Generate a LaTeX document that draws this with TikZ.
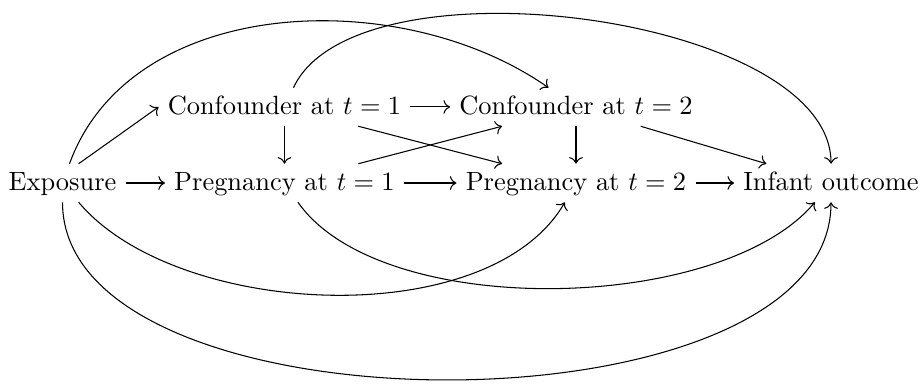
\documentclass[tikz,border=0pt]{standalone}
\usepackage{mathtools}
\usepackage{tikz}
\usetikzlibrary{arrows.meta}

\begin{document}
\begin{tikzpicture}[->, >={Computer Modern Rightarrow},
   var/.style={inner sep=3.33pt, text height=1.5ex, text depth=.25ex}]
  \useasboundingbox (-0.832,-2.663) rectangle (11.469,2.436);
  \node[var] (exp)   at (0,0)         {Exposure};
  \node[var] (conf1) at (2.955,1.012) {Confounder at $t=1$};
  \node[var] (preg1) at (2.955,0)     {Pregnancy at $t=1$};
  \node[var] (conf2) at (6.836,1.012) {Confounder at $t=2$};
  \node[var] (preg2) at (6.836,0)     {Pregnancy at $t=2$};
  \node[var] (inf)   at (10.231,0)    {Infant outcome};
  \draw (exp)   -- (preg1);
  \draw (exp.50) -- (conf1.west);
  \draw (conf1) -- (conf2);
  \draw (conf1) -- (preg1);
  \draw (conf1) -- (preg2);
  \draw (preg1) -- (conf2);
  \draw (preg1) -- (preg2);
  \draw (conf2) -- (preg2);
  \draw (conf2) -- (inf);
  \draw (preg2) -- (inf);
  \draw (exp)   to[out=70, in=145, looseness=.95] (conf2);
  \draw (conf1) to[out=65, in=90, looseness=.7] (inf);
  \draw (exp)   to[out=-50, in=-120, looseness=.8] (preg2);
  \draw (preg1) to[out=-55, in=-130, looseness=.72] (inf);
  \draw (exp)   to[out=-90, in=-90, looseness=.79] (inf);
\end{tikzpicture}
\end{document}
